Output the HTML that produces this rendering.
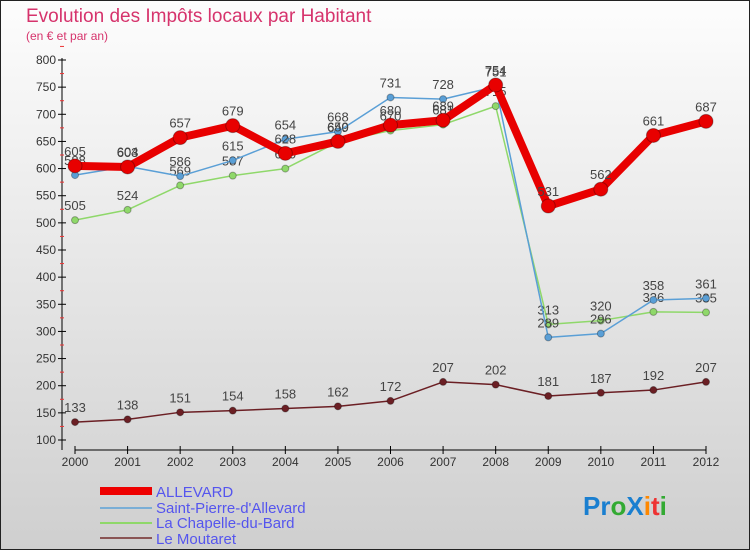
<!DOCTYPE html>
<html><head><meta charset="utf-8"><style>
body{margin:0;width:750px;height:550px;overflow:hidden;font-family:"Liberation Sans",sans-serif}
</style></head><body>
<svg id="c" width="750" height="550" xmlns="http://www.w3.org/2000/svg">
<defs><linearGradient id="bg" x1="0" y1="0" x2="0" y2="1"><stop offset="0" stop-color="#fdfdfd"/><stop offset="1" stop-color="#cfcfcf"/></linearGradient></defs>
<rect x="0.5" y="0.5" width="749" height="549" fill="url(#bg)" stroke="#222"/>
<text x="26" y="22" font-size="19" fill="#d6336c">Evolution des Impôts locaux par Habitant</text>
<text x="26" y="40" font-size="12" fill="#d6336c">(en € et par an)</text>
<g id="axes"></g><g id="series"></g>
<g>
<rect x="100" y="487" width="52" height="8" fill="#e00"/>
<line x1="100" y1="508" x2="152" y2="508" stroke="#7aaed6" stroke-width="2"/>
<line x1="100" y1="523" x2="152" y2="523" stroke="#8fd86a" stroke-width="2"/>
<line x1="100" y1="538" x2="152" y2="538" stroke="#8a5555" stroke-width="2"/>
<g font-size="15" fill="#5555ee">
<text x="156" y="497">ALLEVARD</text>
<text x="156" y="513">Saint-Pierre-d'Allevard</text>
<text x="156" y="528">La Chapelle-du-Bard</text>
<text x="156" y="544">Le Moutaret</text>
</g></g>
<g font-size="26" font-weight="bold">
<text x="583" y="515"><tspan fill="#1a7fd0">Pr</tspan><tspan fill="#3a3">o</tspan><tspan fill="#1a7fd0">X</tspan><tspan fill="#f80">i</tspan><tspan fill="#e33">t</tspan><tspan fill="#3a3">i</tspan></text>
</g>
</svg>
<script>
const years=["2000","2001","2002","2003","2004","2005","2006","2007","2008","2009","2010","2011","2012"];
const allevard=[605,603,657,679,628,650,680,689,754,531,562,661,687];
const saintPierre=[588,604,586,615,654,668,731,728,751,289,296,358,361];
const chapelle=[505,524,569,587,600,649,670,681,715,313,320,336,335];
const moutaret=[133,138,151,154,158,162,172,207,202,181,187,192,207];
const yTicks=[100,150,200,250,300,350,400,450,500,550,600,650,700,750,800];
const NS="http://www.w3.org/2000/svg";
const X=i=>75+i*(706-75)/12, Y=v=>440-(v-100)*380/700;
function mk(t,a,p){const e=document.createElementNS(NS,t);for(const k in a)e.setAttribute(k,a[k]);p.appendChild(e);return e;}
const ax=document.getElementById('axes');
let e=mk('line',{x1:62,y1:58,x2:62,y2:450,stroke:'#000'},ax);


e=mk('line',{x1:75,y1:450,x2:706,y2:450,stroke:'#000'},ax);


yTicks.forEach(v=>{mk('line',{x1:58,x2:66,y1:Y(v),y2:Y(v),stroke:'#000'},ax);
mk('line',{x1:60,x2:64,y1:Y(v+25),y2:Y(v+25),stroke:'#e33'},ax);
const t=mk('text',{x:56,y:Y(v)+4,'font-size':12,'text-anchor':'end',fill:'#333'},ax);t.textContent=v;

});
years.forEach((y,i)=>{mk('line',{x1:X(i),x2:X(i),y1:446,y2:454,stroke:'#000'},ax);
const t=mk('text',{x:X(i),y:466,'font-size':12,'text-anchor':'middle',fill:'#333'},ax);t.textContent=y;

});
const sg=document.getElementById('series');
function draw(vals,col,w,r,name){const g=mk('g',{},sg);


const l=mk('polyline',{points:vals.map((v,i)=>X(i)+','+Y(v)).join(' '),fill:'none',stroke:col,'stroke-width':w,'stroke-linejoin':'round'},g);


vals.forEach((v,i)=>{const c=mk('circle',{cx:X(i),cy:Y(v),r:r,fill:col,stroke:'rgba(0,0,0,0.3)'},g);


const t=mk('text',{x:X(i),y:Y(v)-10,'font-size':13,'text-anchor':'middle',fill:'#444'},g);t.textContent=v;

});}
draw(moutaret,'#6b1f24',1.5,3.5,'moutaret');
draw(chapelle,'#8fd86a',1.5,3.5,'chapelle');
draw(saintPierre,'#5a9fd6',1.5,3.5,'saint-pierre');
draw(allevard,'#e80000',8,7,'allevard');
</script>
</body></html>
